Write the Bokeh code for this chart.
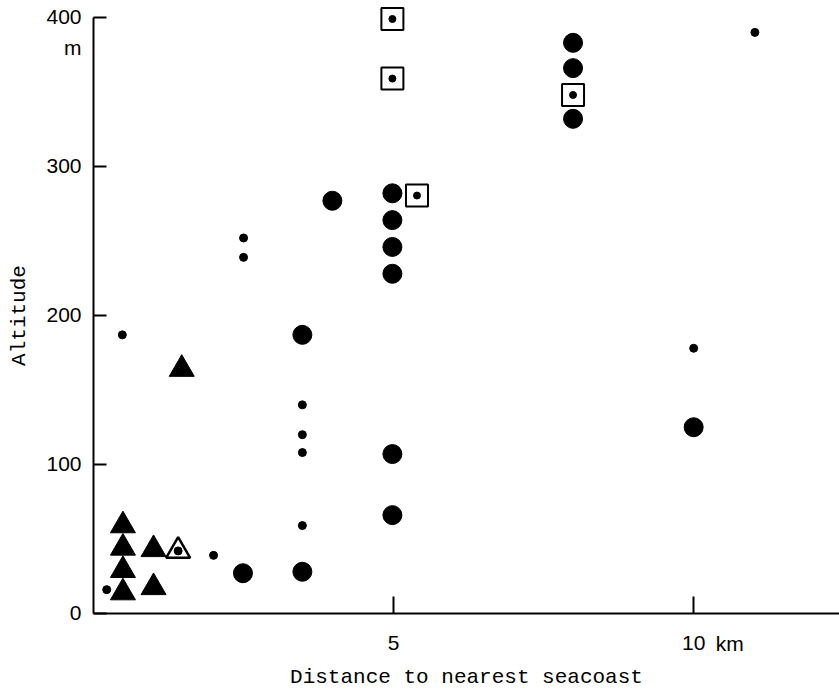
from bokeh.plotting import figure
from bokeh.models import Range1d, FixedTicker, LinearAxis, Label
from bokeh.embed import file_html
from bokeh.resources import INLINE

# small dots
dot_x = [0.22, 0.48, 2.0, 2.5, 2.5, 3.48, 3.48, 3.48, 3.48, 10.0, 11.02]
dot_y = [16, 187, 39, 252, 239, 140, 120, 108, 59, 178, 390]
# large filled circles
circle_x = [2.49, 3.48, 3.48, 3.98, 4.98, 4.98, 4.98, 4.98, 4.98, 4.98, 7.99, 7.99, 7.99, 10.0]
circle_y = [27, 28, 187, 277, 282, 264, 246, 228, 107, 66, 383, 366, 332, 125]
# filled triangles
tri_x = [0.49, 0.49, 0.49, 0.49, 1.0, 1.0, 1.47]
tri_y = [59, 44, 29, 14, 43, 17.5, 164]
# open triangle with dot
open_tri_x = [1.41]
open_tri_y = [42]
# open squares with dot
sq_x = [4.98, 4.98, 5.39, 7.99]
sq_y = [399, 359, 280.5, 348]

x_ticks = [5, 10]
y_ticks = [0, 100, 200, 300, 400]
x_max, y_max = 12.43, 400

# whole canvas is the plotting frame; axes are pinned at x=0 / y=0
p = figure(width=839, height=690, output_backend="svg", toolbar_location=None,
           x_range=Range1d(-1.55, 12.43), y_range=Range1d(-51.7, 411.4),
           x_axis_location=None, y_axis_location=None,
           min_border_left=0, min_border_right=0, min_border_top=0, min_border_bottom=0)
p.grid.visible = False
p.outline_line_color = None
p.background_fill_color = "white"
p.border_fill_color = "white"

tick_font = "Liberation Sans"
label_font = "Liberation Mono"


def style(ax):
    ax.fixed_location = 0
    ax.axis_line_width = 2
    ax.axis_line_color = "black"
    ax.major_tick_line_width = 2
    ax.major_tick_line_color = "black"
    ax.major_tick_out = 0
    ax.minor_tick_line_color = None
    ax.major_label_text_font = tick_font
    ax.major_label_text_font_size = "21px"
    ax.major_label_text_color = "black"
    ax.axis_label_text_font = label_font
    ax.axis_label_text_font_size = "21px"
    ax.axis_label_text_font_style = "normal"
    ax.axis_label_text_color = "black"


xaxis = LinearAxis(ticker=FixedTicker(ticks=x_ticks), axis_label="Distance to nearest seacoast")
style(xaxis)
xaxis.major_tick_in = 17
xaxis.major_label_standoff = 23
xaxis.axis_label_standoff = 12
xaxis.bounds = (0, x_max)
p.add_layout(xaxis, "below")

yaxis = LinearAxis(ticker=FixedTicker(ticks=y_ticks), axis_label="Altitude")
style(yaxis)
yaxis.major_tick_in = 13
yaxis.major_label_standoff = 12
yaxis.axis_label_standoff = 12
yaxis.bounds = (0, y_max)
p.add_layout(yaxis, "left")

# unit labels
p.add_layout(Label(x=0, y=y_max, text="m", x_offset=-12, y_offset=-30,
                   text_align="right", text_baseline="middle",
                   text_font=tick_font, text_font_size="21px", text_color="black"))
p.add_layout(Label(x=x_ticks[-1], y=0, text="km", x_offset=22, y_offset=-30,
                   text_align="left", text_baseline="middle",
                   text_font=tick_font, text_font_size="21px", text_color="black"))

# markers
p.scatter(circle_x, circle_y, marker="circle", size=19, color="black")
p.scatter(dot_x, dot_y, marker="circle", size=8, color="black")
p.scatter(tri_x, tri_y, marker="triangle", size=25, color="black")
p.scatter(open_tri_x, open_tri_y, marker="triangle", size=24, fill_color="white",
          line_color="black", line_width=2.5)
p.scatter(open_tri_x, open_tri_y, marker="circle", size=8, color="black")
p.scatter(sq_x, sq_y, marker="square", size=22, fill_color="white",
          line_color="black", line_width=2)
p.scatter(sq_x, sq_y, marker="circle", size=7, color="black")

open("out.html", "w").write(file_html(p, INLINE))
